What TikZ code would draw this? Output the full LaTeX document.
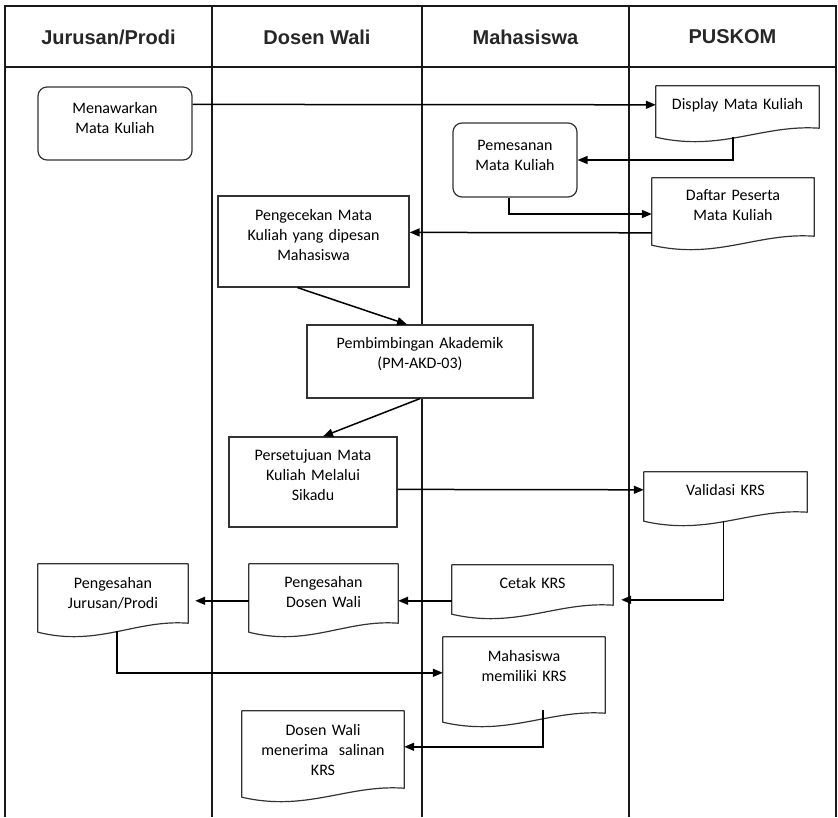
\documentclass[tikz,border=0pt]{standalone}
\usepackage{fontspec}
\setmainfont{Carlito}
\newfontfamily\hdrfont{Liberation Sans}
\usetikzlibrary{arrows.meta,calc}
\tikzset{
  lane/.style={line width=1.4pt, draw=black!90},
  hdr/.style={font=\hdrfont\bfseries\fontsize{20}{24}\selectfont, text=black!85, inner sep=0pt},
  geo/.style n args={3}{text width=#1pt-6pt, minimum height=#2pt+#3pt, text height=#2pt, text depth=#3pt},
  base/.style={rectangle, inner xsep=3pt, inner ysep=0pt, align=center, font=\fontsize{16}{20}\selectfont},
  proc/.style={base, draw=black!80, fill=white, line width=1.2pt},
  rproc/.style={proc, rounded corners=9pt},
  docu/.style={base},
  docline/.style={draw=black!80, line width=1.2pt, line join=round},
  arr/.style={line width=1.5pt, -{Triangle[length=10pt,width=8pt]}},
}
\newcommand\docoutline[1]{%
  \draw[docline] (#1.north west) -- (#1.north east) -- ([yshift=14pt]#1.south east)
    .. controls ($(#1.south west)!0.65!(#1.south east)+(0pt,18pt)$) and ($(#1.south west)!0.4!(#1.south east)+(0pt,-10pt)$) .. ([yshift=5pt]#1.south west) -- cycle;}
\begin{document}
\begin{tikzpicture}[x=1pt,y=-1pt]
\useasboundingbox (0,0) rectangle (838,817);
% frame and lanes
\draw[lane] (5,817) -- (5,6) -- (836,6) -- (836,817);
\draw[lane] (5,67) -- (836,67);
\foreach \x in {212,422,629} \draw[lane] (\x,6) -- (\x,817);
% headers
\node[hdr] (h1) at (108.5,37) {Jurusan/Prodi};
\node[hdr] (h2) at (317,37) {Dosen Wali};
\node[hdr] (h3) at (525.5,37) {Mahasiswa};
\node[hdr] (h4) at (732.5,37) {PUSKOM};
% process nodes
\node[rproc, geo={154}{26}{47}] (men) at (115,123.5) {Menawarkan\\Mata Kuliah};
\node[rproc, geo={124}{27}{47}] (pem) at (515,160) {Pemesanan\\Mata Kuliah};
\node[proc, geo={191}{24}{67}] (cek) at (313.5,241.5) {Pengecekan Mata\\Kuliah yang dipesan\\Mahasiswa};
\node[proc, geo={226}{23}{50}] (bimb) at (420,361.5) {Pembimbingan Akademik\\(PM-AKD-03)};
\node[proc, geo={168}{23}{67}] (setuju) at (313,482) {Persetujuan Mata\\Kuliah Melalui\\Sikadu};
% document nodes
\node[docu, geo={163}{23}{33}] (disp) at (737.5,114) {Display Mata Kuliah};
\node[docu, geo={162}{22}{50}] (daftar) at (733,214) {Daftar Peserta\\Mata Kuliah};
\node[docu, geo={163}{23}{31}] (valid) at (725.5,499) {Validasi KRS};
\node[docu, geo={161}{23}{31}] (cetak) at (532.5,592) {Cetak KRS};
\node[docu, geo={149}{23}{50}] (sahdw) at (323.5,600.5) {Pengesahan\\Dosen Wali};
\node[docu, geo={150}{24}{49}] (sahjp) at (113,600.5) {Pengesahan\\Jurusan/Prodi};
\node[docu, geo={162}{24}{66}] (mhs) at (524,682) {Mahasiswa\\memiliki KRS};
\node[docu, geo={162}{24}{67}] (dwkrs) at (323,756.5) {Dosen Wali\\menerima\ \ salinan\\KRS};
\foreach \n in {disp,daftar,valid,cetak,sahdw,sahjp,mhs,dwkrs} {\docoutline{\n}}
% connectors
\draw[arr] ([yshift=-18pt]men.north east) -- ([yshift=-19pt]disp.north west);
\draw[arr] ([xshift=-4.5pt,yshift=5pt]disp.south) |- (pem.east);
\draw[arr] ([xshift=-6pt]pem.south) |- (daftar.west);
\draw[arr] ([yshift=-55pt]daftar.north west) -- ([yshift=-37pt]cek.north east);
\draw[arr] ([xshift=-16pt]cek.south) -- ([xshift=-13pt]bimb.north);
\draw[arr] (bimb.south) -- ([xshift=10pt]setuju.north);
\draw[arr] ([yshift=-53pt]setuju.north east) -- ([yshift=-18pt]valid.north west);
\draw[arr, shorten >=8pt] ([xshift=-2pt,yshift=5pt]valid.south) |- ([yshift=-35pt]cetak.north east);
\draw[arr] ([yshift=-36pt]cetak.north west) -- ([yshift=-37pt]sahdw.north east);
\draw[arr, shorten >=7pt] ([yshift=-37pt]sahdw.north west) -- ([yshift=-37pt]sahjp.north east);
\draw[arr] ([xshift=4pt,yshift=6pt]sahjp.south) |- ([yshift=-36pt]mhs.north west);
\draw[arr] ([xshift=19pt,yshift=17pt]mhs.south) |- ([yshift=-36pt]dwkrs.north east);
\end{tikzpicture}
\end{document}
